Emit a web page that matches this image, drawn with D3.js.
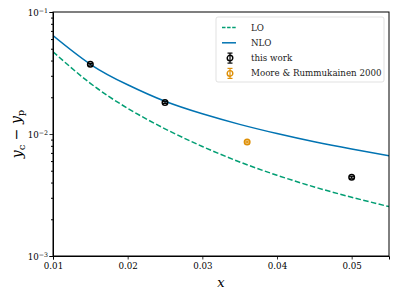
<!DOCTYPE html>
<html>
<head>
<meta charset="utf-8">
<script src="https://cdn.jsdelivr.net/npm/d3@7"></script>
<style>
  body { margin: 0; background: #fff; }
  text { font-family: "DejaVu Serif", "Liberation Serif", serif; }
</style>
</head>
<body>
<svg id="chart" width="399" height="299"></svg>
<script>
// data
const xGrid = [0.01, 0.015, 0.02, 0.025, 0.03, 0.035, 0.04, 0.045, 0.05, 0.055];
const loValues = [0.04726, 0.02603, 0.01624, 0.01103, 0.00790, 0.00590, 0.00459, 0.00368, 0.00303, 0.00254];
const nloValues = [0.0640, 0.0373, 0.02531, 0.01854, 0.01464, 0.01199, 0.01008, 0.00863, 0.00753, 0.00664];

const thisWorkX = [0.015, 0.025, 0.05];
const thisWorkY = [0.0373, 0.0181, 0.00442];
const thisWorkErr = [0.0006, 0.0003, 0.00008];

const mooreX = [0.036];
const mooreY = [0.0086];
const mooreErr = [0.00015];

const xTicks = [0.01, 0.02, 0.03, 0.04, 0.05];
const yTicks = [1e-3, 1e-2, 1e-1];
const yTickExp = ["−3", "−2", "−1"];

const svg = d3.select("#chart"),
      margin = { top: 12, right: 10, bottom: 43, left: 53 },
      width = +svg.attr("width") - margin.left - margin.right,
      height = +svg.attr("height") - margin.top - margin.bottom;

const g = svg.append("g")
  .attr("transform", `translate(${margin.left},${margin.top})`);

const x = d3.scaleLinear().domain([0.01, 0.055]).range([0, width]);
const y = d3.scaleLog().domain([1e-3, 1e-1]).range([height, 0]);

const colors = { lo: "#029e73", nlo: "#0173b2", work: "#000000", moore: "#de8f05" };

g.append("defs").append("clipPath").attr("id", "clip")
  .append("rect").attr("width", width).attr("height", height);

// curves
const line = d3.line()
  .x(d => x(d[0]))
  .y(d => y(d[1]))
  .curve(d3.curveNatural);

const plot = g.append("g").attr("clip-path", "url(#clip)");

plot.append("path")
  .datum(xGrid.map((v, i) => [v, loValues[i]]))
  .attr("d", line)
  .attr("fill", "none")
  .attr("stroke", colors.lo)
  .attr("stroke-width", 1.5)
  .attr("stroke-dasharray", "5.5,2.4");

plot.append("path")
  .datum(xGrid.map((v, i) => [v, nloValues[i]]))
  .attr("d", line)
  .attr("fill", "none")
  .attr("stroke", colors.nlo)
  .attr("stroke-width", 1.5);

// error bar points
function drawPoints(xs, ys, errs, color) {
  xs.forEach((xv, i) => {
    const cx = x(xv), cy = y(ys[i]);
    const y0 = y(ys[i] - errs[i]), y1 = y(ys[i] + errs[i]);
    plot.append("line")
      .attr("x1", cx).attr("x2", cx).attr("y1", y0).attr("y2", y1)
      .attr("stroke", color).attr("stroke-width", 1.2);
    [y0, y1].forEach(cyc => {
      plot.append("line")
        .attr("x1", cx - 2.5).attr("x2", cx + 2.5).attr("y1", cyc).attr("y2", cyc)
        .attr("stroke", color).attr("stroke-width", 1.2);
    });
    plot.append("circle")
      .attr("cx", cx).attr("cy", cy).attr("r", 2.8)
      .attr("fill", "none")
      .attr("stroke", color)
      .attr("stroke-width", 1.4);
  });
}
drawPoints(thisWorkX, thisWorkY, thisWorkErr, colors.work);
drawPoints(mooreX, mooreY, mooreErr, colors.moore);

// axes
const xAxis = g.append("g")
  .attr("transform", `translate(0,${height})`)
  .call(d3.axisBottom(x).tickValues(xTicks).tickFormat(d3.format(".2f")).tickSize(3.5).tickPadding(3));

const minorY = [];
[1e-3, 1e-2].forEach(dec => {
  for (let k = 2; k <= 9; k++) minorY.push(dec * k);
});
g.append("g")
  .call(d3.axisLeft(y).tickValues(minorY).tickSize(2).tickFormat(""))
  .call(a => a.select(".domain").remove());

const yAxis = g.append("g")
  .call(d3.axisLeft(y).tickValues(yTicks).tickSize(3.5).tickPadding(3).tickFormat(""));

yAxis.selectAll(".tick").each(function (d, i) {
  const t = d3.select(this).append("text")
    .attr("x", -5)
    .attr("dy", "0.35em")
    .attr("text-anchor", "end")
    .attr("fill", "#000")
    .attr("font-size", "8.7px");
  t.append("tspan").text("10");
  t.append("tspan").attr("dy", "-0.45em").attr("font-size", "6.3px").text(yTickExp[i]);
});

[xAxis, yAxis].forEach(a => {
  a.selectAll(".tick line").attr("stroke", "#000").attr("stroke-width", 0.8);
  a.selectAll("text").attr("font-family", "DejaVu Serif, serif");
});
xAxis.selectAll("text").attr("font-size", "8.7px").attr("fill", "#000");

// frame
g.append("rect")
  .attr("width", width).attr("height", height)
  .attr("fill", "none").attr("stroke", "#000").attr("stroke-width", 1);

// axis labels
g.append("text")
  .attr("x", width / 2)
  .attr("y", height + 31)
  .attr("text-anchor", "middle")
  .attr("font-size", "13px")
  .attr("font-style", "italic")
  .text("x");

const yl = g.append("text")
  .attr("transform", "rotate(-90)")
  .attr("x", -height / 2)
  .attr("y", -margin.left + 22)
  .attr("text-anchor", "middle")
  .attr("font-size", "14px");
yl.append("tspan").attr("font-style", "italic").text("y");
yl.append("tspan").attr("font-size", "10px").attr("dy", "0.3em").text("c");
yl.append("tspan").attr("dy", "-0.3em").text(" − ");
yl.append("tspan").attr("font-style", "italic").text("y");
yl.append("tspan").attr("font-size", "10px").attr("dy", "0.3em").text("p");

// legend
const legend = svg.append("g").attr("transform", "translate(216,17)");
legend.append("rect")
  .attr("width", 168).attr("height", 65).attr("rx", 2)
  .attr("fill", "#fff").attr("fill-opacity", 0.8)
  .attr("stroke", "#d9d9d9").attr("stroke-width", 0.8);

const legendItems = [
  { label: "LO", type: "dash", color: colors.lo },
  { label: "NLO", type: "line", color: colors.nlo },
  { label: "this work", type: "err", color: colors.work },
  { label: "Moore & Rummukainen 2000", type: "err", color: colors.moore }
];

const item = legend.selectAll("g.item")
  .data(legendItems)
  .enter().append("g")
  .attr("class", "item")
  .attr("transform", (d, i) => `translate(0,${10.5 + i * 15.3})`);

item.filter(d => d.type !== "err").append("line")
  .attr("x1", 6).attr("x2", 20).attr("y1", 0).attr("y2", 0)
  .attr("stroke", d => d.color).attr("stroke-width", 1.5)
  .attr("stroke-dasharray", d => d.type === "dash" ? "3.5,1.6" : null);

const errItem = item.filter(d => d.type === "err");
errItem.append("line")
  .attr("x1", 14).attr("x2", 14).attr("y1", -5).attr("y2", 5)
  .attr("stroke", d => d.color).attr("stroke-width", 1.2);
errItem.append("line")
  .attr("x1", 11.5).attr("x2", 16.5).attr("y1", -5).attr("y2", -5)
  .attr("stroke", d => d.color).attr("stroke-width", 1.2);
errItem.append("line")
  .attr("x1", 11.5).attr("x2", 16.5).attr("y1", 5).attr("y2", 5)
  .attr("stroke", d => d.color).attr("stroke-width", 1.2);
errItem.append("circle")
  .attr("cx", 14).attr("cy", 0).attr("r", 2.8)
  .attr("fill", "none").attr("stroke", d => d.color).attr("stroke-width", 1.4);

item.append("text")
  .attr("x", 35)
  .attr("dy", "0.35em")
  .attr("font-size", "8.7px")
  .attr("fill", "#222")
  .text(d => d.label);
</script>
</body>
</html>
